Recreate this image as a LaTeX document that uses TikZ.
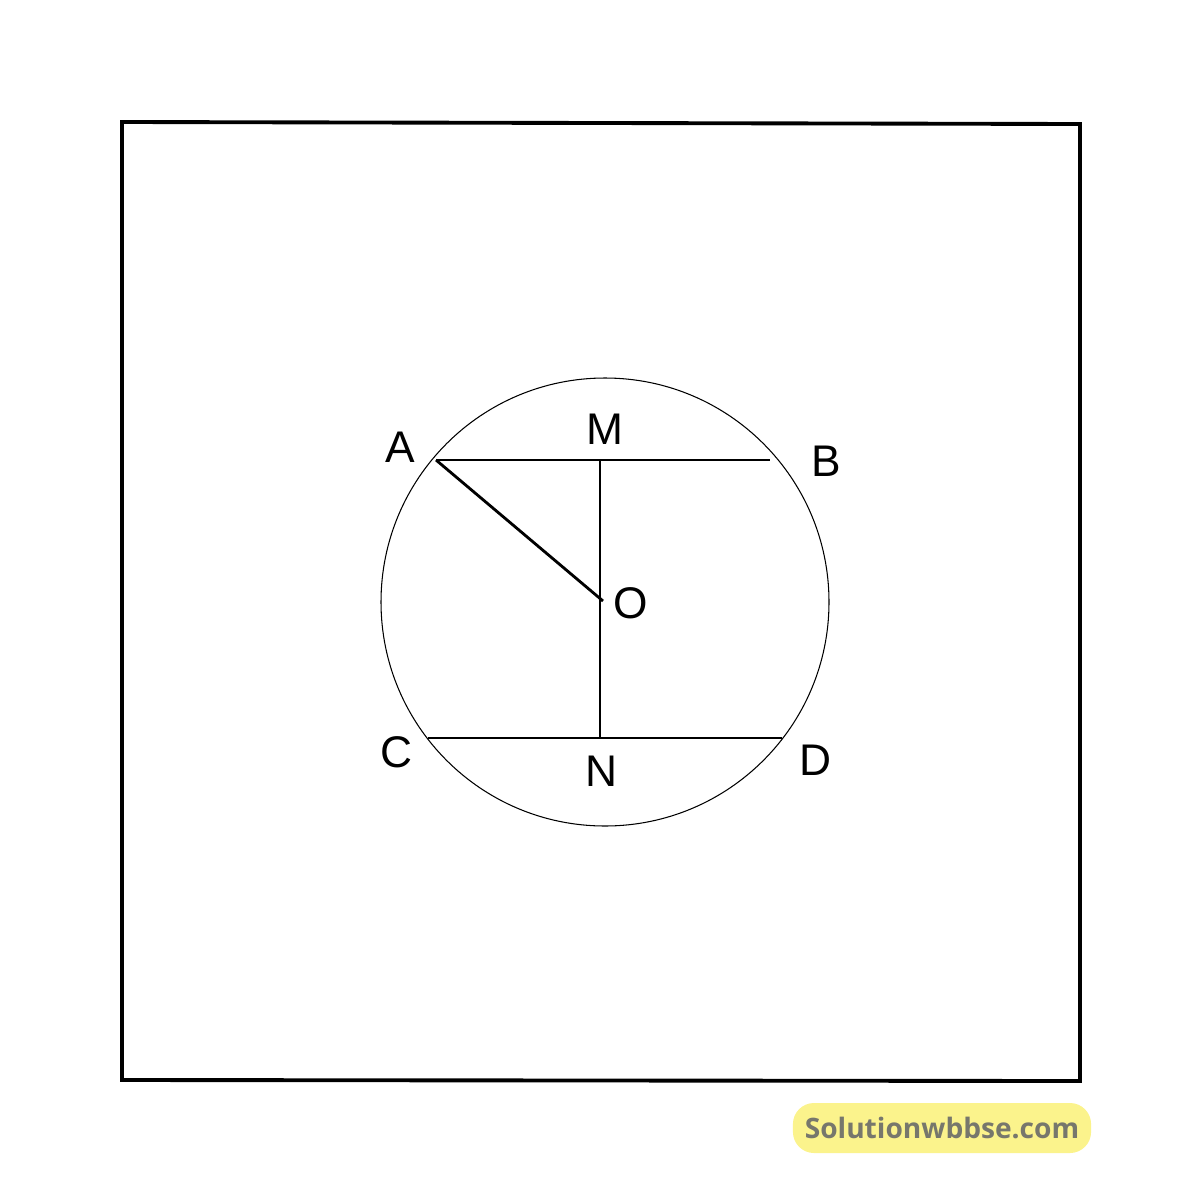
\documentclass[tikz,border=0pt]{standalone}
\usepackage{fontspec}
\setmainfont{Liberation Sans}
\newfontfamily\markfont{Open Sans}
\definecolor{markyellow}{HTML}{FBF38C}
\definecolor{markgray}{HTML}{77776C}
\tikzset{
    lbl/.style={inner sep=0pt, font=\fontsize{12.6}{15}\selectfont},
    chord/.style={line width=0.8pt},
    pt/.style={inner sep=0pt, minimum size=0pt}
}
\begin{document}
\begin{tikzpicture}[x=0.01cm, y=-0.01cm]
    \useasboundingbox (0,0) rectangle (1200,1200);
    % outer frame
    \draw[line width=1.1pt] (122,122) -- (1080,124) -- (1080,1081) -- (122,1080) -- cycle;
    % circle
    \draw[line width=0.3pt] (605,602) circle (224);
    % points
    \coordinate (A) at (436,460);
    \coordinate (B) at (770,460);
    \coordinate (M) at (600,460);
    \coordinate (O) at (603,601);
    \coordinate (C) at (428,738);
    \coordinate (D) at (782,738);
    \coordinate (N) at (600,738);
    % chords and segments
    \draw[chord] (A) -- (B);
    \draw[chord] (C) -- (D);
    \draw[chord] (M) -- (N);
    \draw[chord] (A) -- (O);
    % labels
    \node[lbl] (lA) at (400,447) {A};
    \node[lbl] (lM) at (605,429) {M};
    \node[lbl] (lB) at (826,461) {B};
    \node[lbl] (lO) at (631,603) {O};
    \node[lbl] (lC) at (396,752) {C};
    \node[lbl] (lN) at (601,771) {N};
    \node[lbl] (lD) at (815,760) {D};
    % watermark
    \node[fill=markyellow, rounded corners=6pt, minimum width=2.98cm, minimum height=0.5cm,
          inner sep=0pt, text=markgray, font=\markfont\bfseries\fontsize{8}{10}\selectfont]
          (mark) at (942,1128) {Solutionwbbse.com};
\end{tikzpicture}
\end{document}
